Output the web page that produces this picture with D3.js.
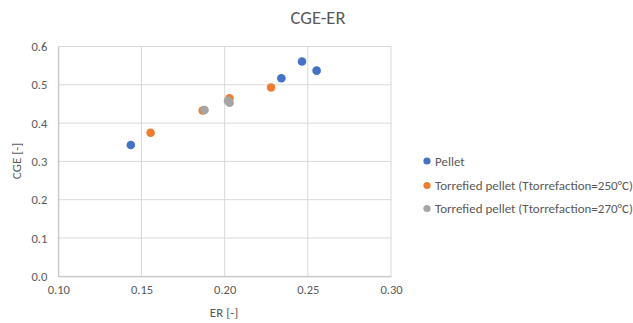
<!DOCTYPE html>
<html lang="en">
<head>
    <meta charset="utf-8">
    <script src="https://d3js.org/d3.v7.min.js"></script>
    <style>
        body { margin: 0; background: #fff; }
        text { font-family: Calibri, Carlito, "Open Sans", "Liberation Sans", sans-serif; fill: #595959; }
    </style>
</head>
<body>
    <script>
        // series
        const pelletER = [0.1436, 0.2341, 0.2465, 0.2553];
        const pelletCGE = [0.343, 0.517, 0.561, 0.537];
        const t250ER = [0.1555, 0.1868, 0.2029, 0.2279];
        const t250CGE = [0.375, 0.433, 0.465, 0.493];
        const t270ER = [0.1879, 0.2020, 0.2030];
        const t270CGE = [0.434, 0.458, 0.453];

        const seriesNames = ["Pellet", "Torrefied pellet (Ttorrefaction=250°C)", "Torrefied pellet (Ttorrefaction=270°C)"];
        const xTicks = [0.10, 0.15, 0.20, 0.25, 0.30];
        const yTicks = [0.0, 0.1, 0.2, 0.3, 0.4, 0.5, 0.6];

        const colours = ["#4472C4", "#ED7D31", "#A5A5A5"];

        const series = [
            pelletER.map(function(d, i) { return {er: d, cge: pelletCGE[i]}; }),
            t250ER.map(function(d, i) { return {er: d, cge: t250CGE[i]}; }),
            t270ER.map(function(d, i) { return {er: d, cge: t270CGE[i]}; })
        ];

        const W = 633, H = 323;
        const svg = d3.select("body").append("svg")
            .attr("width", W)
            .attr("height", H);

        var x = d3.scaleLinear().domain([0.10, 0.30]).range([58.3, 391]);
        var y = d3.scaleLinear().domain([0, 0.6]).range([276.3, 46.5]);

        // gridlines
        svg.append("g").selectAll("line.gy")
            .data(yTicks)
            .enter().append("line")
            .attr("x1", x(0.10)).attr("x2", x(0.30))
            .attr("y1", function(d) { return y(d); })
            .attr("y2", function(d) { return y(d); })
            .attr("stroke", "#D9D9D9")
            .attr("stroke-width", 1);

        svg.append("g").selectAll("line.gx")
            .data(xTicks)
            .enter().append("line")
            .attr("y1", y(0)).attr("y2", y(0.6))
            .attr("x1", function(d) { return x(d); })
            .attr("x2", function(d) { return x(d); })
            .attr("stroke", "#D9D9D9")
            .attr("stroke-width", 1);

        // axes (no ticks, just labels)
        var xAxis = svg.append("g")
            .attr("transform", "translate(0," + y(0) + ")")
            .call(d3.axisBottom(x).tickValues(xTicks).tickSize(0).tickPadding(9).tickFormat(d3.format(".2f")));
        xAxis.select(".domain").attr("stroke", "#BFBFBF");
        xAxis.selectAll("text").attr("font-size", 12.5).attr("fill", "#595959")
            .style("font-family", "Calibri, Carlito, 'Open Sans', 'Liberation Sans', sans-serif");

        var yAxis = svg.append("g")
            .attr("transform", "translate(" + x(0.10) + ",0)")
            .call(d3.axisLeft(y).tickValues(yTicks).tickSize(0).tickPadding(11).tickFormat(d3.format(".1f")));
        yAxis.select(".domain").attr("stroke", "#BFBFBF");
        yAxis.selectAll("text").attr("font-size", 12.5).attr("fill", "#595959")
            .style("font-family", "Calibri, Carlito, 'Open Sans', 'Liberation Sans', sans-serif");

        // titles
        svg.append("text")
            .attr("x", 318).attr("y", 24)
            .attr("text-anchor", "middle")
            .attr("font-size", 18.5)
            .text("CGE-ER");

        svg.append("text")
            .attr("x", 224).attr("y", 317)
            .attr("text-anchor", "middle")
            .attr("font-size", 13)
            .text("ER [-]");

        svg.append("text")
            .attr("transform", "translate(21,161) rotate(-90)")
            .attr("text-anchor", "middle")
            .attr("font-size", 13)
            .text("CGE [-]");

        // points
        series.forEach(function(s, k) {
            svg.append("g").selectAll("circle")
                .data(s)
                .enter().append("circle")
                .attr("cx", function(d) { return x(d.er); })
                .attr("cy", function(d) { return y(d.cge); })
                .attr("r", 4.3)
                .attr("fill", colours[k]);
        });

        // legend
        var legend = svg.append("g").selectAll("g")
            .data(seriesNames)
            .enter().append("g")
            .attr("transform", function(d, i) { return "translate(427," + [161, 185.5, 208.5][i] + ")"; });

        legend.append("circle")
            .attr("r", 3.6)
            .attr("fill", function(d, i) { return colours[i]; });

        legend.append("text")
            .attr("x", 8)
            .attr("dy", "0.35em")
            .attr("font-size", 13)
            .text(function(d) { return d; });
    </script>
</body>
</html>
